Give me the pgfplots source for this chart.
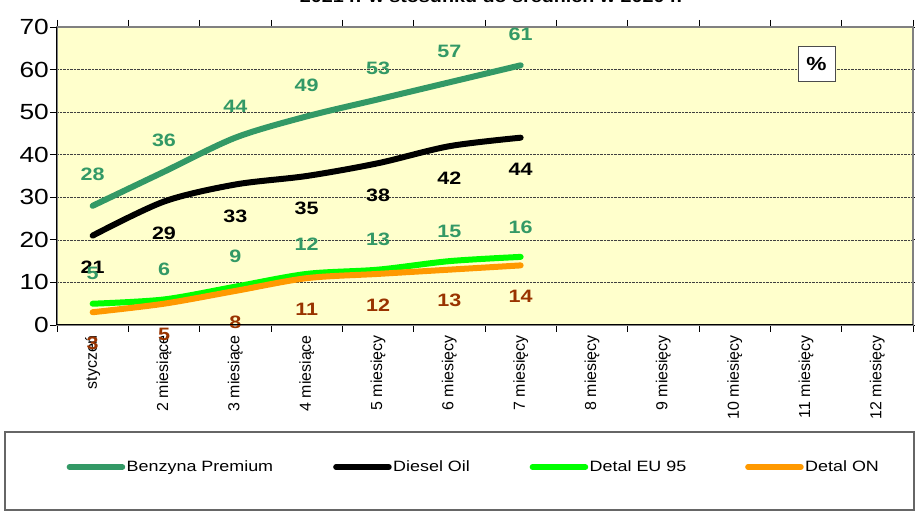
\documentclass[border=0pt]{standalone}
\usepackage{pgfplots}
\pgfplotsset{compat=1.18}
\usepackage{fontspec}
\setmainfont{Liberation Sans}[FakeStretch=1.2]
\newfontfamily\catfont{Liberation Sans}
\definecolor{bgyel}{HTML}{FFFFCC}
\definecolor{seagreen}{HTML}{339966}
\definecolor{brightgreen}{HTML}{00FF00}
\definecolor{orangeon}{HTML}{FF9900}
\definecolor{brownlab}{HTML}{993300}
\begin{document}
\begin{tikzpicture}[x=1bp,y=1bp]
\useasboundingbox (-57,-188) rectangle (858,325);
\begin{axis}[
  width=856bp, height=298bp, scale only axis,
  xmin=0, xmax=12, ymin=0, ymax=70,
  axis background/.style={fill=bgyel},
  axis line style={draw=gray, line width=1.5bp},
  xtick={0,...,12}, xticklabels={},
  ytick={0,10,...,70},
  ymajorgrids, grid style={densely dotted, black!75, line width=0.7bp},
  tick align=outside, major tick length=7bp,
  tick style={black, line width=0.8bp},
  /pgf/number format/assume math mode=true,
  yticklabel style={font=\fontsize{22}{22}\selectfont, inner sep=1bp},
  extra x ticks={0.5,1.5,...,11.5},
  extra x tick labels={styczeń,2 miesiące,3 miesiące,4 miesiące,5 miesięcy,6 miesięcy,7 miesięcy,8 miesięcy,9 miesięcy,10 miesięcy,11 miesięcy,12 miesięcy},
  extra x tick style={major tick length=0pt, xticklabel style={yshift=-10bp, rotate=90, anchor=east, font=\catfont\fontsize{16}{16}\selectfont, inner sep=0pt}},
  legend columns=4,
  legend style={at={(axis description cs:0.0111,-0.4765)}, anchor=west, draw=none, fill=none, inner sep=0pt, font=\fontsize{15}{15}\selectfont, nodes={inner sep=1.5bp}, /tikz/every even column/.append style={column sep=0pt}},
  legend cell align=left,
  legend image code/.code={\draw[#1, line width=5.5bp, line cap=round] (0bp,0bp) -- (53bp,0bp);},
  nodes near coords,
  every node near coord/.append style={anchor=center, font=\bfseries\fontsize{18}{18}\selectfont},
]
\addplot[seagreen, line width=6bp, line cap=round, smooth, tension=0.5,
  every node near coord/.append style={text=seagreen, yshift=31bp}]
  coordinates {(0.5,28)(1.5,36)(2.5,44)(3.5,49)(4.5,53)(5.5,57)(6.5,61)};
\addlegendentry{\makebox[205bp][l]{Benzyna Premium}}
\addplot[black, line width=6bp, line cap=round, smooth, tension=0.5,
  every node near coord/.append style={text=black, yshift=-32bp}]
  coordinates {(0.5,21)(1.5,29)(2.5,33)(3.5,35)(4.5,38)(5.5,42)(6.5,44)};
\addlegendentry{\makebox[135bp][l]{Diesel Oil}}
\addplot[brightgreen, line width=6bp, line cap=round, smooth, tension=0.5,
  every node near coord/.append style={text=seagreen, yshift=30bp}]
  coordinates {(0.5,5)(1.5,6)(2.5,9)(3.5,12)(4.5,13)(5.5,15)(6.5,16)};
\addlegendentry{\makebox[154bp][l]{Detal EU 95}}
\addplot[orangeon, line width=6bp, line cap=round, smooth, tension=0.5,
  every node near coord/.append style={text=brownlab, yshift=-31bp}]
  coordinates {(0.5,3)(1.5,5)(2.5,8)(3.5,11)(4.5,12)(5.5,13)(6.5,14)};
\addlegendentry{Detal ON}
\end{axis}
\draw[black, line width=1bp] (0,298) -- (0,0) -- (856,0);
\node[draw=black!70, fill=white, line width=0.8bp, minimum width=37bp, minimum height=35bp, inner sep=0pt, font=\bfseries\fontsize{19}{19}\selectfont] at (759.5,261.5) {\%};
\node[font=\bfseries\fontsize{16.5}{16.5}\selectfont, anchor=base, inner sep=0pt] at (434,322) {2021 r. w stosunku do średnich w 2020 r.};
\draw[black!60, line width=1.2bp] (-52,-107) rectangle (857,-185);
\end{tikzpicture}
\end{document}
